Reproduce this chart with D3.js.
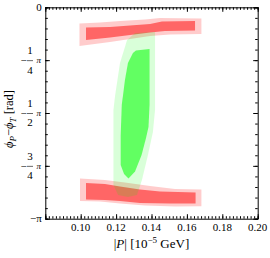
<!DOCTYPE html>
<html>
<head>
<meta charset="utf-8">
<script src="https://cdn.jsdelivr.net/npm/d3@7"></script>
<style>
  body { margin: 0; background: #fff; }
  text { font-family: "Liberation Serif", "DejaVu Serif", serif; fill: #000; }
</style>
</head>
<body>
<div id="chart"></div>
<script>
// allowed regions: [ |P| (1e-5 GeV), (phiP - phiT) / pi ]
var redOuterTop = [[0.0993,-0.077],[0.1109,-0.072],[0.1222,-0.065],[0.1363,-0.058],[0.1448,-0.051],[0.1682,-0.053],
  [0.1682,-0.126],[0.1505,-0.129],[0.1392,-0.136],[0.1279,-0.150],[0.1166,-0.164],[0.0993,-0.183]];
var redInnerTop = [[0.1030,-0.096],[0.1166,-0.093],[0.1279,-0.086],[0.1392,-0.079],[0.1459,-0.067],[0.1646,-0.065],
  [0.1646,-0.110],[0.1476,-0.112],[0.1392,-0.119],[0.1279,-0.131],[0.1166,-0.143],[0.1030,-0.155]];
var redOuterBottom = [[0.0996,-0.810],[0.1137,-0.817],[0.1250,-0.829],[0.1392,-0.845],[0.1533,-0.860],[0.1682,-0.862],
  [0.1682,-0.941],[0.1533,-0.942],[0.1363,-0.938],[0.1222,-0.928],[0.1109,-0.919],[0.0996,-0.916]];
var redInnerBottom = [[0.1030,-0.831],[0.1137,-0.836],[0.1222,-0.848],[0.1335,-0.862],[0.1448,-0.871],[0.1649,-0.876],
  [0.1649,-0.928],[0.1505,-0.928],[0.1335,-0.926],[0.1222,-0.916],[0.1137,-0.912],[0.1030,-0.909]];
var greenOuter = [[0.1307,-0.122],[0.1420,-0.117],[0.1420,-0.486],[0.1408,-0.590],[0.1380,-0.699],[0.1346,-0.817],
  [0.1318,-0.888],[0.1267,-0.897],[0.1211,-0.888],[0.1185,-0.841],[0.1185,-0.486],[0.1194,-0.420],[0.1222,-0.264],[0.1262,-0.155]];
var greenInner = [[0.1295,-0.216],[0.1312,-0.204],[0.1389,-0.197],[0.1389,-0.462],[0.1383,-0.566],[0.1369,-0.618],
  [0.1344,-0.699],[0.1307,-0.777],[0.1270,-0.810],[0.1245,-0.789],[0.1226,-0.746],[0.1226,-0.604],[0.1232,-0.462],
  [0.1250,-0.344],[0.1267,-0.264]];

// ticks
var xMajor = [0.08, 0.10, 0.12, 0.14, 0.16, 0.18, 0.20];
var xLabels = [0.10, 0.12, 0.14, 0.16, 0.18, 0.20];
var yMajor = [0, -0.25, -0.5, -0.75, -1];
var yLabels = [
  {v: 0, text: "0"},
  {v: -0.25, num: "1", den: "4"},
  {v: -0.5, num: "1", den: "2"},
  {v: -0.75, num: "3", den: "4"},
  {v: -1, text: "\u2212\u03c0"}
];

var svgWidth = 270, svgHeight = 258;
var margin = {top: 7.3, right: 12.3, bottom: 39.3, left: 45.3};
var width = svgWidth - margin.left - margin.right;
var height = svgHeight - margin.top - margin.bottom;

var svg = d3.select("#chart").append("svg")
  .attr("width", svgWidth)
  .attr("height", svgHeight);
var g = svg.append("g")
  .attr("transform", `translate(${margin.left}, ${margin.top})`);

var x = d3.scaleLinear().domain([0.08, 0.20]).range([0, width]);
var y = d3.scaleLinear().domain([-1, 0]).range([height, 0]);

var shape = d3.line()
  .x(d => x(d[0]))
  .y(d => y(d[1]))
  .curve(d3.curveLinearClosed);

// regions: light outer, strong inner
var layers = [
  {pts: redOuterTop, fill: "#ff0000", op: 0.2},
  {pts: redOuterBottom, fill: "#ff0000", op: 0.2},
  {pts: redInnerTop, fill: "#ff0000", op: 0.5},
  {pts: redInnerBottom, fill: "#ff0000", op: 0.5},
  {pts: greenOuter, fill: "#00ff00", op: 0.15},
  {pts: greenInner, fill: "#00ff00", op: 0.55}
];
g.selectAll("path.region")
  .data(layers)
  .enter()
  .append("path")
  .attr("class", "region")
  .attr("d", d => shape(d.pts))
  .attr("fill", d => d.fill)
  .attr("fill-opacity", d => d.op);

// minor tick values
var xMinor = d3.range(0, 61).map(i => 0.08 + i * 0.002);
var yMinor = d3.range(0, 21).map(i => -i / 20);

function tickAxis(axisFn, scale, vals, size) {
  return axisFn(scale).tickValues(vals).tickSize(size).tickFormat("");
}

var axes = [
  {fn: d3.axisBottom, sc: x, t: `translate(0,${height})`},
  {fn: d3.axisTop, sc: x, t: "translate(0,0)"},
  {fn: d3.axisLeft, sc: y, t: "translate(0,0)"},
  {fn: d3.axisRight, sc: y, t: `translate(${width},0)`}
];
axes.forEach(function(a) {
  var isX = a.sc === x;
  var minor = isX ? xMinor : yMinor;
  var major = isX ? xMajor : yMajor;
  var ga = g.append("g").attr("transform", a.t);
  ga.call(tickAxis(a.fn, a.sc, minor, -2.5));
  var gm = g.append("g").attr("transform", a.t);
  gm.call(tickAxis(a.fn, a.sc, major, -4.5));
  gm.select(".domain").remove();
  ga.select(".domain").attr("stroke", "#000").attr("stroke-width", 1);
});

// x tick labels
g.selectAll("text.xl")
  .data(xLabels)
  .enter()
  .append("text")
  .attr("class", "xl")
  .attr("x", d => x(d))
  .attr("y", height + 12.5)
  .attr("text-anchor", "middle")
  .style("font-size", "11px")
  .text(d => d3.format(".2f")(d));

// y tick labels (fractions of pi)
yLabels.forEach(function(d) {
  var yy = y(d.v);
  if (d.text) {
    g.append("text")
      .attr("x", -3.6)
      .attr("y", yy + 3.5)
      .attr("text-anchor", "end")
      .style("font-size", "11px")
      .text(d.text);
    return;
  }
  g.append("text").attr("x", -21.6).attr("y", yy + 3.8).attr("text-anchor", "middle")
    .style("font-size", "11px").text("\u2212");
  g.append("line").attr("x1", -18.3).attr("x2", -12.3).attr("y1", yy + 0.5).attr("y2", yy + 0.5)
    .attr("stroke", "#000").attr("stroke-width", 0.6);
  g.append("text").attr("x", -15.3).attr("y", yy - 6).attr("text-anchor", "middle")
    .style("font-size", "11px").text(d.num);
  g.append("text").attr("x", -15.3).attr("y", yy + 13.5).attr("text-anchor", "middle")
    .style("font-size", "11px").text(d.den);
  g.append("text").attr("x", -4.4).attr("y", yy + 3).attr("text-anchor", "end")
    .style("font-size", "9px").style("font-style", "italic").text("\u03c0");
});

// axis titles
var xt = g.append("text")
  .attr("x", width / 2)
  .attr("y", height + 29.5)
  .attr("text-anchor", "middle")
  .style("font-size", "13px");
xt.append("tspan").text("|");
xt.append("tspan").style("font-style", "italic").text("P");
xt.append("tspan").text("| [10");
xt.append("tspan").attr("dy", -5).style("font-size", "9px").text("\u22125");
xt.append("tspan").attr("dy", 5).text(" GeV]");

var yt = g.append("text")
  .attr("transform", `translate(-32, ${height / 2 + 6}) rotate(-90)`)
  .attr("text-anchor", "middle")
  .style("font-size", "12.5px");
yt.append("tspan").style("font-style", "italic").text("\u03d5");
yt.append("tspan").attr("dy", 3).style("font-size", "9px").style("font-style", "italic").text("P");
yt.append("tspan").attr("dy", -3).text("\u2212");
yt.append("tspan").style("font-style", "italic").text("\u03d5");
yt.append("tspan").attr("dy", 3).style("font-size", "9px").style("font-style", "italic").text("T");
yt.append("tspan").attr("dy", -3).text(" [rad]");
</script>
</body>
</html>
